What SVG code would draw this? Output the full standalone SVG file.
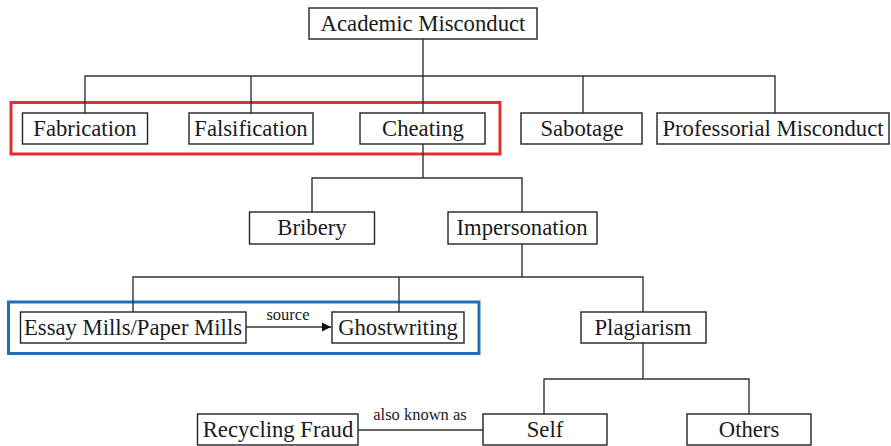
<svg xmlns="http://www.w3.org/2000/svg" width="891" height="446" viewBox="0 0 891 446">
<style>
.box{fill:#fff;stroke:#222;stroke-width:1.4}
.t{font-family:"Liberation Serif","Times New Roman",serif;font-size:22.7px;fill:#1a1a1a;text-anchor:middle}
.s{font-family:"Liberation Serif","Times New Roman",serif;font-size:16.5px;fill:#1a1a1a;text-anchor:middle}
.c{fill:none;stroke:#333;stroke-width:1.4}
</style>
<defs>
<marker id="ah" markerWidth="10" markerHeight="10" refX="9" refY="5" orient="auto" markerUnits="userSpaceOnUse">
<path d="M0,0.5 L9,5 L0,9.5 Z" fill="#111"/>
</marker>
</defs>
<rect x="0" y="0" width="891" height="446" fill="#fff"/>
<g id="highlights">
<rect x="11" y="102.5" width="489" height="51.5" fill="none" stroke="#e03131" stroke-width="3"/>
<rect x="8.5" y="302" width="470.5" height="51.5" fill="none" stroke="#1f72b8" stroke-width="3"/>
</g>
<g id="connectors">
<path class="c" d="M423,39 V113 M85,113 V76 H775 V113 M251,76 V113 M583,76 V113"/>
<path class="c" d="M423,144 V178 M312,212 V178 H522 V212"/>
<path class="c" d="M522,244 V277 M133,312 V277 H643 V312 M399,277 V312"/>
<path class="c" d="M643,343 V379 M544,414 V379 H749 V414"/>
<path class="c" d="M246,327 H331" marker-end="url(#ah)"/>
<path class="c" d="M358,430 H483"/>
<text class="s" x="288" y="320">source</text>
<text class="s" x="420" y="420">also known as</text>
</g>
<g id="academic-misconduct"><rect class="box" x="309" y="8" width="228" height="31"/><text class="t" x="423" y="31">Academic Misconduct</text></g>
<g id="fabrication"><rect class="box" x="22.5" y="113" width="125" height="31"/><text class="t" x="85" y="135.5">Fabrication</text></g>
<g id="falsification"><rect class="box" x="189" y="113" width="124" height="31"/><text class="t" x="251" y="135.5">Falsification</text></g>
<g id="cheating"><rect class="box" x="360" y="113" width="125" height="31"/><text class="t" x="423" y="135.5">Cheating</text></g>
<g id="sabotage"><rect class="box" x="521" y="113" width="121" height="31"/><text class="t" x="582" y="135.5">Sabotage</text></g>
<g id="professorial-misconduct"><rect class="box" x="657" y="113" width="232" height="31"/><text class="t" x="773" y="135.5">Professorial Misconduct</text></g>
<g id="bribery"><rect class="box" x="249.5" y="212" width="125" height="32"/><text class="t" x="312" y="235">Bribery</text></g>
<g id="impersonation"><rect class="box" x="448" y="212" width="149" height="32"/><text class="t" x="522" y="235">Impersonation</text></g>
<g id="essay-mills"><rect class="box" x="20.5" y="312" width="225.5" height="31"/><text class="t" x="133" y="335">Essay Mills/Paper Mills</text></g>
<g id="ghostwriting"><rect class="box" x="332" y="312" width="132" height="31"/><text class="t" x="398" y="335">Ghostwriting</text></g>
<g id="plagiarism"><rect class="box" x="581" y="312" width="125" height="31"/><text class="t" x="643" y="335">Plagiarism</text></g>
<g id="recycling-fraud"><rect class="box" x="197.5" y="414" width="160.5" height="31"/><text class="t" x="278" y="437">Recycling Fraud</text></g>
<g id="self"><rect class="box" x="483" y="414" width="124" height="31"/><text class="t" x="545" y="437">Self</text></g>
<g id="others"><rect class="box" x="687" y="414" width="124" height="31"/><text class="t" x="749" y="437">Others</text></g>
</svg>
